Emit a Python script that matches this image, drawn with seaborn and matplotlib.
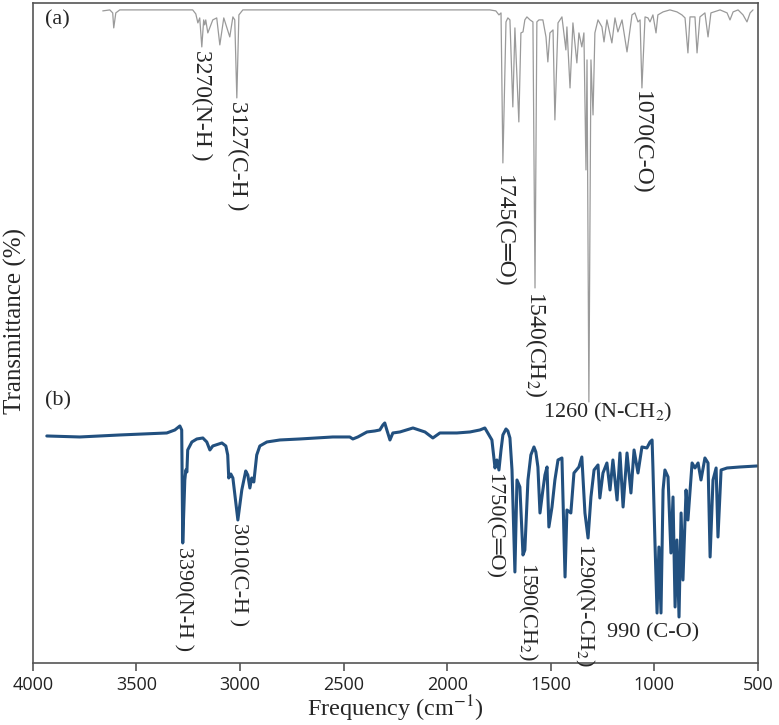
import numpy as np
import pandas as pd
import matplotlib
matplotlib.use("Agg")
import matplotlib.pyplot as plt
import seaborn as sns

# spectrum (a): wavenumber (cm-1) and transmittance (a.u., offset trace)
freq_a = [3662, 3628, 3614, 3609, 3599, 3580, 3228, 3213, 3203, 3194,
          3184, 3175, 3170, 3165, 3155, 3131, 3112, 3097, 3078, 3049,
          3034, 3025, 3015, 3005, 2986, 1794, 1765, 1750, 1740, 1731,
          1716, 1707, 1697, 1683, 1673, 1654, 1644, 1634, 1625, 1615,
          1600, 1586, 1576, 1567, 1557, 1538, 1523, 1514, 1504, 1489,
          1480, 1465, 1446, 1427, 1422, 1407, 1393, 1374, 1364, 1350,
          1340, 1330, 1325, 1316, 1306, 1296, 1287, 1272, 1253, 1243,
          1229, 1205, 1190, 1176, 1156, 1132, 1108, 1094, 1079, 1069,
          1060, 1045, 1031, 1021, 1007, 992, 983, 958, 925, 891,
          867, 852, 838, 828, 804, 794, 780, 756, 741, 727,
          683, 649, 635, 620, 596, 572, 553, 538, 524]
trans_a = [652, 653, 650, 635, 650, 653, 653, 649, 640, 645,
           616, 643, 638, 643, 630, 643, 645, 618, 645, 626,
           646, 643, 565, 648, 653, 653, 652, 648, 650, 500,
           641, 645, 643, 556, 635, 541, 630, 631, 643, 646,
           643, 641, 375, 641, 643, 643, 626, 601, 630, 633,
           543, 640, 646, 613, 636, 575, 640, 600, 630, 616,
           630, 493, 603, 261, 603, 548, 630, 643, 636, 621,
           643, 620, 645, 631, 643, 611, 648, 650, 641, 643,
           575, 646, 645, 641, 648, 630, 648, 651, 653, 651,
           648, 645, 610, 646, 646, 610, 646, 650, 626, 650,
           653, 650, 643, 651, 653, 648, 641, 650, 653]

# spectrum (b)
freq_b = [3932, 3773, 3580, 3353, 3314, 3290, 3281, 3276, 3266, 3261,
          3256, 3252, 3232, 3208, 3179, 3160, 3145, 3131, 3116, 3087,
          3068, 3059, 3054, 3044, 3034, 3010, 2991, 2972, 2962, 2952,
          2943, 2933, 2919, 2904, 2870, 2807, 2711, 2552, 2470, 2455,
          2431, 2387, 2349, 2325, 2310, 2301, 2291, 2276, 2262, 2228,
          2165, 2107, 2069, 2035, 1953, 1890, 1842, 1818, 1798, 1784,
          1769, 1760, 1750, 1740, 1731, 1716, 1707, 1697, 1687, 1673,
          1663, 1649, 1634, 1625, 1610, 1596, 1581, 1572, 1562, 1552,
          1538, 1528, 1518, 1509, 1494, 1480, 1465, 1446, 1431, 1422,
          1403, 1388, 1364, 1350, 1335, 1320, 1306, 1291, 1272, 1263,
          1248, 1229, 1214, 1200, 1180, 1166, 1151, 1132, 1113, 1098,
          1079, 1060, 1036, 1021, 1011, 1007, 997, 987, 978, 968,
          958, 949, 934, 920, 910, 900, 891, 881, 871, 862,
          847, 838, 818, 804, 789, 775, 756, 741, 731, 717,
          702, 693, 678, 649, 587, 505]
trans_b = [227, 226, 228, 230, 233, 237, 233, 120, 183, 193,
           191, 213, 221, 224, 225, 221, 213, 217, 218, 220,
           217, 208, 185, 189, 185, 143, 173, 192, 188, 175,
           185, 181, 208, 217, 221, 223, 224, 226, 226, 224,
           226, 231, 232, 233, 238, 240, 233, 223, 230, 231,
           235, 231, 225, 230, 230, 231, 233, 235, 228, 223,
           195, 203, 193, 213, 228, 234, 232, 225, 193, 91,
           183, 176, 108, 113, 183, 208, 216, 211, 196, 150,
           173, 188, 196, 136, 156, 183, 203, 205, 86, 153,
           150, 190, 196, 206, 150, 125, 166, 193, 198, 165,
           190, 200, 173, 203, 163, 210, 156, 210, 170, 213,
           190, 216, 215, 221, 223, 196, 120, 50, 116, 50,
           173, 193, 186, 110, 166, 56, 123, 46, 150, 83,
           173, 143, 200, 195, 200, 183, 205, 200, 106, 183,
           195, 126, 193, 195, 196, 197]

# peak labels: text, wavenumber, transmittance of label top
labels_a = ["3270(N-H )", "3127(C-H )", "1745(C═O)", "1540(CH$_2$)", "1070(C-O)"]
label_x_a = [3184, 3010, 1726, 1572, 1060]
label_y_a = [613, 562, 488, 372, 572]

labels_b = ["3390(N-H )", "3010(C-H )", "1750(C═O)", "1590(CH$_2$)", "1290(N-CH$_2$)"]
label_x_b = [3276, 3010, 1779, 1610, 1335]
label_y_b = [116, 140, 190, 101, 120]

df_a = pd.DataFrame({"freq": freq_a, "trans": trans_a})
df_b = pd.DataFrame({"freq": freq_b, "trans": trans_b})

sns.set_style("ticks")
plt.rcParams["mathtext.fontset"] = "stix"
serif = ["Liberation Serif", "DejaVu Sans"]

fig = plt.figure(figsize=(7.79, 7.25), dpi=100)
ax = fig.add_axes([0.042, 0.0855, 0.931, 0.9105])

sns.lineplot(data=df_a, x="freq", y="trans", ax=ax, color="#9a9a9a",
             linewidth=0.9, sort=False, estimator=None)
sns.lineplot(data=df_b, x="freq", y="trans", ax=ax, color="#22507f",
             linewidth=2.2, sort=False, estimator=None)

for t, x, y in zip(labels_a, label_x_a, label_y_a):
    ax.text(x, y, t, rotation=270, ha="center", va="top",
            family=serif, fontsize=17)
for t, x, y in zip(labels_b, label_x_b, label_y_b):
    ax.text(x, y, t, rotation=270, ha="center", va="top",
            family=serif, fontsize=16)
ax.text(1224, 250, "1260 (N-CH$_2$)", ha="center", va="center",
        family=serif, fontsize=16)
ax.text(1007, 30, "990 (C-O)", ha="center", va="center",
        family=serif, fontsize=16)
ax.text(3942, 643, "(a)", ha="left", va="center", family=serif, fontsize=16)
ax.text(3942, 262, "(b)", ha="left", va="center", family=serif, fontsize=16)

ax.set_xlim(4000, 500)
ax.set_ylim(0, 660)
ax.set_xticks([4000, 3500, 3000, 2500, 2000, 1500, 1000, 500])
ax.set_yticks([])
ax.tick_params(axis="x", direction="out", length=6, width=1.2,
               color="#555555", labelsize=13, labelcolor="#222222", pad=3)
for lab in ax.get_xticklabels():
    lab.set_family("Open Sans")
for s in ax.spines.values():
    s.set_visible(True)
    s.set_color("#555555")
    s.set_linewidth(1.2)

ax.set_xlabel("Frequency (cm$^{-1}$)", family=serif, fontsize=17.5, labelpad=0)
ax.set_ylabel("Transmittance (%)", family=serif, fontsize=18)
ax.yaxis.set_label_coords(-0.008, 0.518)

fig.savefig("out.png", dpi=100)
